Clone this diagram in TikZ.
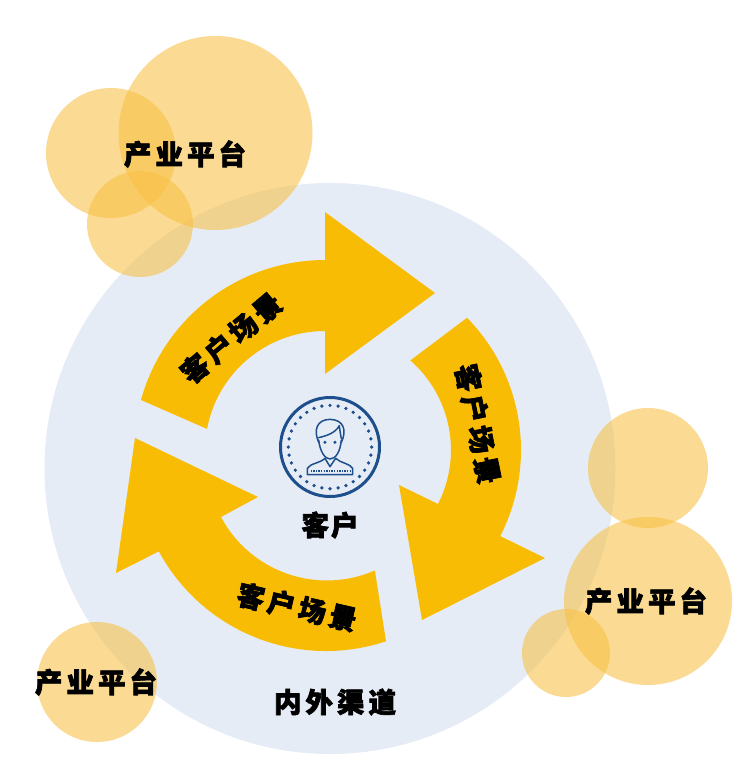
\documentclass[tikz,border=0pt]{standalone}
\usepackage{fontspec}
\usetikzlibrary{calc}
\newfontfamily\cjk[BoldFeatures={FakeBold=2.5}]{Noto Sans CJK SC}
\definecolor{bgblue}{HTML}{E6ECF5}
\definecolor{arrowgold}{HTML}{F9BC05}
\definecolor{bubble}{HTML}{F9C043}
\definecolor{navy}{HTML}{1C4F8C}
\newcommand{\sptxt}[4]{#1\kern4pt#2\kern4pt#3\kern4pt#4}
\tikzset{
  bubblec/.style={fill=bubble,fill opacity=0.57,draw=none},
  arrowshape/.style={fill=arrowgold,draw=none},
  lab/.style={font=\cjk\bfseries\fontsize{27.5}{28}\selectfont,text=black,inner sep=0pt},
  iconline/.style={draw=navy,line width=1.5pt,line join=round,line cap=round}
}
\begin{document}
\begin{tikzpicture}[x=1pt,y=-1pt]
\useasboundingbox (0,0) rectangle (748,782);
\fill[white] (0,0) rectangle (748,782);
\fill[bgblue] (330,468.5) circle[radius=285.5];
% bubbles
\fill[bubblec] (215.5,133) circle[radius=97];
\fill[bubblec] (111,153) circle[radius=65];
\fill[bubblec] (140,224) circle[radius=53];
\fill[bubblec] (648,468) circle[radius=60];
\fill[bubblec] (648,601) circle[radius=84];
\fill[bubblec] (566,653) circle[radius=44];
\fill[bubblec] (97,682) circle[radius=60];
% arrows
\fill[arrowshape] ($(325,451)+(-164.5:191)$) arc[start angle=-164.5,end angle=-90,radius=191]
  -- (325,212) -- (435,293) -- (325,374) -- (325,331)
  arc[start angle=-90,end angle=-169.4,radius=120] -- cycle;
\fill[arrowshape] ($(332,450)+(-44.4:189)$) arc[start angle=-44.4,end angle=27.1,radius=189]
  -- (545,558) -- (422,620) -- (399,485) -- (438,504)
  arc[start angle=27,end angle=-48.8,radius=119] -- cycle;
\fill[arrowshape] ($(326,461)+(71.6:190)$) arc[start angle=71.6,end angle=151.6,radius=190]
  -- (116,573) -- (135,438) -- (258,497) -- (221,517)
  arc[start angle=151.9,end angle=66.4,radius=120] -- cycle;
% icon
\draw[navy,line width=3pt] (330,447) circle[radius=49.5];
\foreach \a in {0,11.25,...,349} \fill[navy] ($(330,447)+(\a:41.7)$) circle[radius=1.8];
\begin{scope}[shift={(270,385)},x=0.3333pt,y=-0.3333pt]
  \draw[iconline] (146,165) .. controls (150,200) and (165,222) .. (180,222) .. controls (197,222) and (211,200) .. (214,165);
  \draw[iconline] (146,172) .. controls (130,135) and (140,104) .. (180,103) .. controls (220,104) and (232,135) .. (214,172);
  \draw[iconline] (146,158) .. controls (170,152) and (195,145) .. (208,122) .. controls (210,140) and (212,150) .. (214,160);
  \draw[iconline] (112,269) -- (112,250) .. controls (120,235) and (150,235) .. (165,220) -- (180,245) -- (197,220) .. controls (212,235) and (240,235) .. (248,250) -- (248,269) -- cycle;
  \draw[navy,line width=1.3pt,dash pattern=on 1.3pt off 1.3pt] (122,258) -- (240,258);
  \fill[navy] (165,172) circle[radius=5] (195,172) circle[radius=5];
\end{scope}
% labels
\node[lab] (pt1) at (185,154) {\sptxt 产业平台};
\node[lab] (pt2) at (646,601) {\sptxt 产业平台};
\node[lab] (pt3) at (96,682) {\sptxt 产业平台};
\node[lab] (qd) at (335,702) {\sptxt 内外渠道};
\node[lab] (kh) at (330,525) {客\kern2pt户};
\node[lab,rotate=40] (s1) at (231,338) {\sptxt 客户场景};
\node[lab,rotate=-78.5] (s2) at (478,424) {\sptxt 客户场景};
\node[lab,rotate=-13] (s3) at (297,607) {\sptxt 客户场景};
\end{tikzpicture}
\end{document}
